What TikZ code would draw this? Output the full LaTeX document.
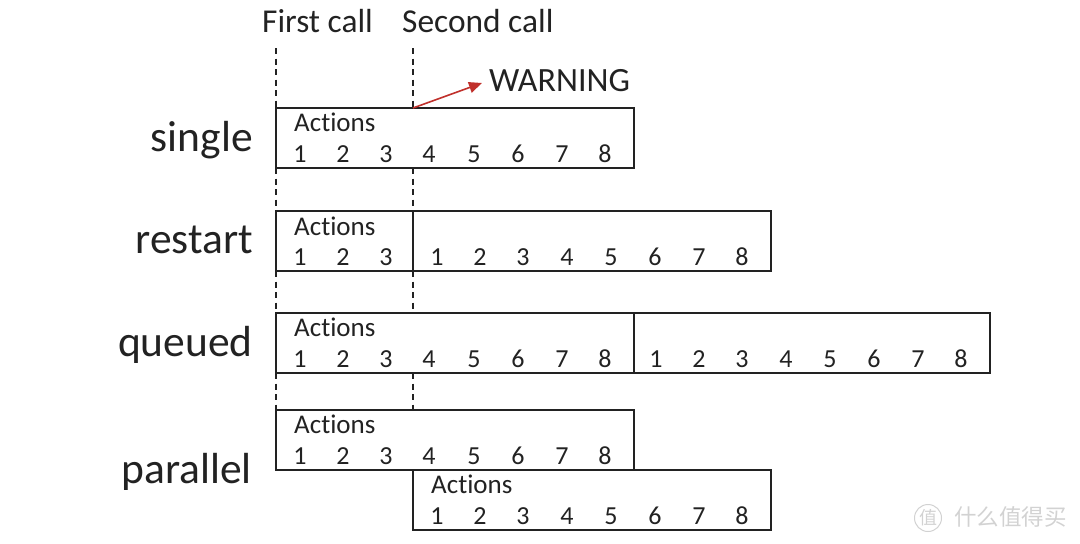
\documentclass[tikz,border=0pt]{standalone}
\usepackage{fontspec}
\setmainfont[Ligatures=NoCommon]{Carlito}
\newfontfamily\cjkf{Noto Sans CJK SC}
\usetikzlibrary{arrows.meta}
\definecolor{warnred}{HTML}{C0302B}
\definecolor{ink}{HTML}{222222}
\definecolor{wm}{HTML}{D2D2D2}
\tikzset{
  x=1pt,y=-1pt,
  actbox/.style={draw=ink,line width=1.7pt,outer sep=0pt,minimum height=60pt,inner sep=0pt,anchor=north west},
  dig/.style={text=ink,font=\fontsize{26}{26}\selectfont,inner sep=0pt,anchor=base},
  act/.style={text=ink,font=\fontsize{27}{27}\selectfont,inner sep=0pt,anchor=base west},
  mode/.style={text=ink,font=\fontsize{43.5}{43.5}\selectfont,inner sep=0pt,anchor=base east},
  call/.style={text=ink,font=\fontsize{33.4}{33.4}\selectfont,inner sep=0pt,anchor=base west},
  guide/.style={draw=ink,line width=1.3pt,dash pattern=on 6pt off 4.5pt},
  wmtext/.style={text=wm,inner sep=0pt}
}
\newcommand{\digrow}[2]{\foreach \dx [count=\dn] in {#1}{\node[dig] at (\dx,#2) {\dn};}}
\begin{document}
\begin{tikzpicture}
\useasboundingbox (0,0) rectangle (1080,544);
% boxes
\node[actbox,minimum width=358pt] (s1) at (276,108) {};
\node[actbox,minimum width=137pt] (r1) at (276,211) {};
\node[actbox,minimum width=358pt] (r2) at (413,211) {};
\node[actbox,minimum width=358pt] (q1) at (276,313) {};
\node[actbox,minimum width=356pt] (q2) at (634,313) {};
\node[actbox,minimum width=358pt] (p1) at (276,410) {};
\node[actbox,minimum width=358pt] (p2) at (413,470) {};
% call labels
\node[call] (c1) at (262,32) {First call};
\node[call] (c2) at (402,32) {Second call};
\coordinate (a1) at (276,48);
\coordinate (a2) at (413,48);
\coordinate (s2t) at (413,108);
\coordinate (s2b) at (413,168);
\coordinate (r2b) at (413,271);
\coordinate (q2t) at (413,313);
\coordinate (q2b) at (413,373);
\coordinate (p2t) at (413,410);
% dashed guides
\draw[guide] (a1) -- (s1.north west);
\draw[guide] (s1.south west) -- (r1.north west);
\draw[guide] (r1.south west) -- (q1.north west);
\draw[guide] (q1.south west) -- (p1.north west);
\draw[guide] (a2) -- (s2t);
\draw[guide] (s2b) -- (r2.north west);
\draw[guide] (r2b) -- (q2t);
\draw[guide] (q2b) -- (p2t);
% warning
\node[text=ink,font=\fontsize{34}{34}\selectfont,inner sep=0pt,anchor=base west] (w) at (489,91.5) {WARNING};
\draw[warnred,line width=1.6pt,-{Triangle[length=13pt,width=11pt]}] (s2t) -- (482,83);
% mode labels
\node[mode] (m1) at (253,151) {single};
\node[mode] (m2) at (253,253) {restart};
\node[mode] (m3) at (253,356) {queued};
\node[mode] (m4) at (252,483) {parallel};
% actions
\node[act] at (294,131.5) {Actions};
\node[act] at (294,235.5) {Actions};
\node[act] at (294,336.5) {Actions};
\node[act] at (294,433.5) {Actions};
\node[act] at (431,493.5) {Actions};
% digits
\digrow{300,343,386,429,474,518,562,605}{162.5}
\digrow{300,343,386}{265.5}
\digrow{437,480,523,567,611,655,699,742}{265.5}
\digrow{300,343,386,429,474,518,562,605}{367.5}
\digrow{656,699,742,786,830,874,918,961}{367.5}
\digrow{300,343,386,429,474,518,562,605}{464.5}
\digrow{437,480,523,567,611,655,699,742}{524.5}
% watermark
\node[draw=wm,line width=1pt,circle,minimum size=27pt,inner sep=0pt,text=wm,font=\cjkf\fontsize{18}{18}\selectfont] (wc) at (928,518) {值};
\node[wmtext,font=\cjkf\fontsize{22.5}{22.5}\selectfont,anchor=west] (wt) at (954,517) {什么值得买};
\end{tikzpicture}
\end{document}
